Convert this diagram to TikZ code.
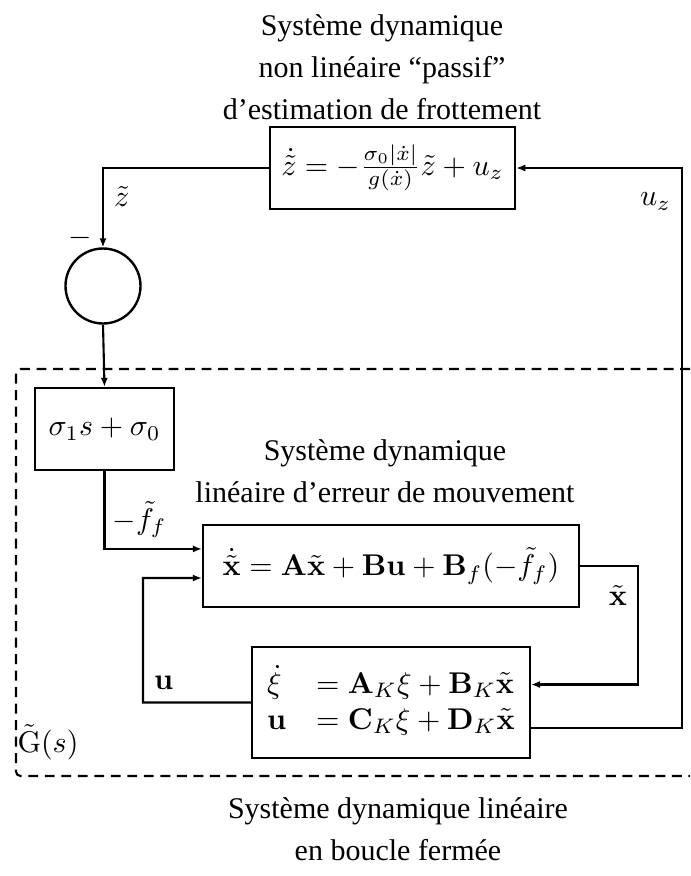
\documentclass[tikz,border=0pt]{standalone}
\usepackage{amsmath}
\usepackage[no-math]{fontspec}
\setmainfont{Liberation Serif}
\usetikzlibrary{arrows.meta}

\begin{document}
\begin{tikzpicture}[
  x=0.3333pt, y=-0.3333pt,
  line width=0.7pt,
  blk/.style={rectangle, draw, line width=0.8pt, inner sep=0pt,
              minimum height=27.3pt},
  sumnode/.style={circle, draw, line width=0.8pt, minimum size=25pt,
                  inner sep=0pt},
  txt/.style={align=center, font=\fontsize{10}{14}\selectfont},
  arr/.style={-{Latex[length=3pt,width=2.4pt]}},
  grp/.style={dash pattern=on 3.3pt off 2.2pt, rounded corners=1.5pt}
]
\useasboundingbox (0,0) rectangle (690,876);

% Titles
\node[txt] (ttop) at (382,67) {Système dynamique\\non linéaire ``passif''\\d'estimation de frottement};
\node[txt] (tmid) at (385,471) {Système dynamique\\linéaire d'erreur de mouvement};
\node[txt] (tbot) at (398,829) {Système dynamique linéaire\\en boucle fermée};

% Blocks
\node[blk, minimum width=81.7pt] (zest) at (392.5,168)
  {$\dot{\tilde z} = -\frac{\sigma_0|\dot x|}{g(\dot x)}\tilde z + u_z$};
\node[sumnode] (sum) at (103,286) {};
\node[blk, minimum width=46.3pt] (corr) at (104.5,429) {$\sigma_1 s+\sigma_0$};
\node[blk, minimum width=125.3pt] (err) at (391,566)
  {$\dot{\tilde{\mathbf x}} = \mathbf A\tilde{\mathbf x}+\mathbf B\mathbf u+\mathbf B_f(-\tilde f_f)$};
\node[blk, minimum width=92pt, minimum height=37pt] (ctrl) at (391,702.5)
  {$\begin{array}{ll}
    \dot\xi & = \mathbf A_K\xi+\mathbf B_K\tilde{\mathbf x}\\
    \mathbf u & = \mathbf C_K\xi+\mathbf D_K\tilde{\mathbf x}
  \end{array}$};

% Closed loop
\draw[grp] (690,369) -- (16,369) -- (16,776) -- (690,776);
\node (gs) at (48,742) {$\tilde{\mathrm G}(s)$};

% Connectors
\draw[arr] (zest.west) -| node[pos=0.68, right] {$\tilde z$} (sum.north);
\node[anchor=base east, inner sep=0pt] (minus) at ([xshift=-3.5pt, yshift=0.5pt]sum.north) {$-$};
\draw[arr] (sum.south) -- (corr.north);
\draw[arr] (corr.south) |- node[pos=0.68, above] {$-\tilde f_f$} ([yshift=5.7pt]err.west);
\coordinate (ubend) at (143,578);
\draw[arr] (ctrl.west) -| node[pos=0.58, right] {$\mathbf u$} (ubend) -- ([yshift=-4pt]err.west);
\draw[arr] (err.east) -- ++(19.3pt,0) |- node[pos=0.125, left] {$\tilde{\mathbf x}$} ([yshift=6pt]ctrl.east);
\draw[arr] ([yshift=-8.5pt]ctrl.east) -- ++(50.3pt,0) |- node[pos=0.47, left] {$u_z$} (zest.east);

\end{tikzpicture}
\end{document}
